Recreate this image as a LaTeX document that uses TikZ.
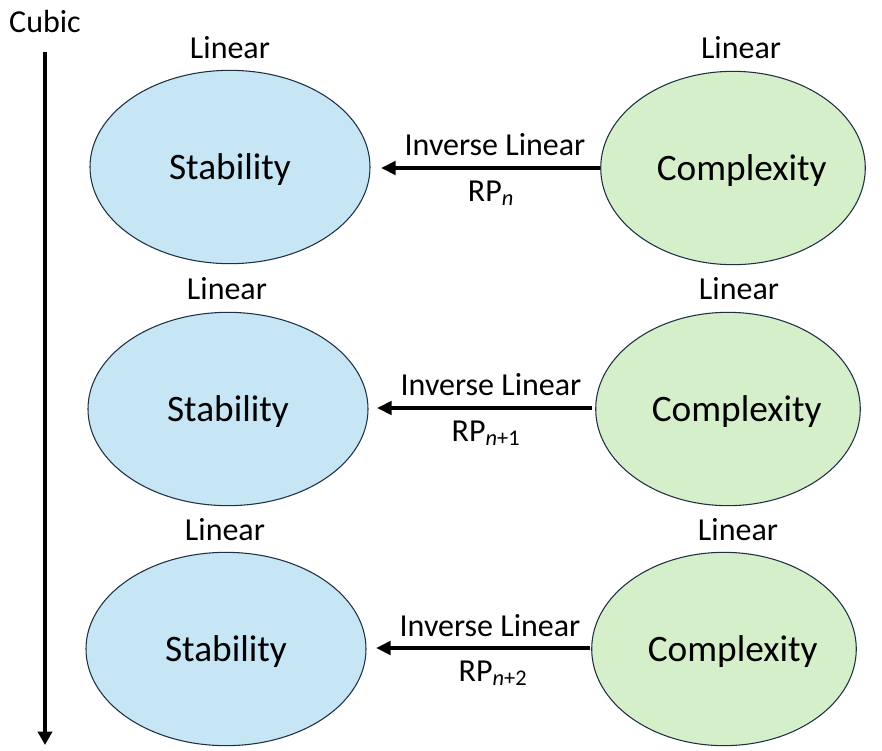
\documentclass[tikz,border=0pt]{standalone}
\usepackage{fontspec}
\setmainfont{Carlito}
\usetikzlibrary{arrows.meta,shapes.geometric}
\definecolor{stabfill}{RGB}{199,230,245}
\definecolor{compfill}{RGB}{213,239,203}
\definecolor{edgecol}{RGB}{30,48,66}
\newcommand{\ctext}[2]{\hspace*{#1}\smash{\raisebox{-9pt}{#2}}}
\begin{document}
\begin{tikzpicture}[x=0.75pt,y=-0.75pt,
  stab/.style={ellipse,draw=edgecol,line width=0.8pt,fill=stabfill,inner sep=0pt,
    minimum width=210pt,minimum height=145pt,font=\fontsize{28}{32}\selectfont},
  comp/.style={ellipse,draw=edgecol,line width=0.8pt,fill=compfill,inner sep=0pt,
    minimum width=192pt,minimum height=145pt,font=\fontsize{28}{32}\selectfont},
  lbl/.style={inner sep=0pt,font=\fontsize{24}{28}\selectfont},
  harr/.style={line width=3.2pt,-{Triangle[length=11pt,width=10pt]}},
  varr/.style={line width=3.2pt,-{Triangle[length=10pt,width=10.5pt]}}]
\useasboundingbox (0,0) rectangle (882,750);

% left axis
\node[lbl] (cubic) at (45,22) {Cubic};
\coordinate (vtop) at (45,52);
\coordinate (vbot) at (45,745);
\draw[varr] (vtop) -- (vbot);

% row 1
\node[stab] (s1) at (230,167) {\ctext{0pt}{Stability}};
\node[comp] (c1) at (733,168) {\ctext{13pt}{Complexity}};
\node[lbl] (ls1) at (230,48) {Linear};
\node[lbl] (lc1) at (741,48) {Linear};
\coordinate (t1) at (600,168);
\coordinate (h1) at (381,168);
\draw[harr] (t1) -- (h1);
\node[lbl] (i1) at (495,145) {Inverse Linear};
\node[lbl,anchor=base] (r1) at (491,201) {RP\textsubscript{\itshape n}};

% row 2
\node[stab] (s2) at (228,409) {\ctext{0pt}{Stability}};
\node[comp] (c2) at (728,409) {\ctext{13pt}{Complexity}};
\node[lbl] (ls2) at (227,289) {Linear};
\node[lbl] (lc2) at (739,289) {Linear};
\coordinate (t2) at (592,408);
\coordinate (h2) at (377,408);
\draw[harr] (t2) -- (h2);
\node[lbl] (i2) at (491,385) {Inverse Linear};
\node[lbl,anchor=base] (r2) at (486,441) {RP\textsubscript{\itshape n\upshape +1}};

% row 3
\node[stab] (s3) at (226,649) {\ctext{0pt}{Stability}};
\node[comp] (c3) at (724,649) {\ctext{13pt}{Complexity}};
\node[lbl] (ls3) at (225,530) {Linear};
\node[lbl] (lc3) at (738,530) {Linear};
\coordinate (t3) at (590,648);
\coordinate (h3) at (376,648);
\draw[harr] (t3) -- (h3);
\node[lbl] (i3) at (490,626) {Inverse Linear};
\node[lbl,anchor=base] (r3) at (493,681) {RP\textsubscript{\itshape n\upshape +2}};
\end{tikzpicture}
\end{document}
